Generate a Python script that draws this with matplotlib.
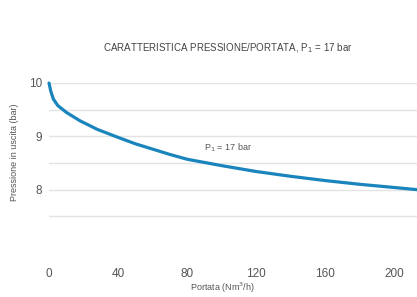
import matplotlib
matplotlib.use('Agg')
import matplotlib.pyplot as plt

plt.rcParams['font.family'] = ['Liberation Sans', 'DejaVu Sans']

# portata (Nm3/h) e pressione in uscita (bar)
portata = [0, 1, 2.5, 5, 10, 18, 28, 40, 50, 60, 70, 80, 100, 120, 140, 160, 180, 200, 213]
pressione = [10.0, 9.85, 9.70, 9.58, 9.45, 9.29, 9.13, 8.98, 8.86, 8.76, 8.66, 8.57,
             8.45, 8.34, 8.25, 8.17, 8.10, 8.04, 8.0]

x_ticks = [0, 40, 80, 120, 160, 200]
y_ticks = [8, 9, 10]
grid_levels = [7.5, 8, 8.5, 9, 9.5, 10]

titolo = 'CARATTERISTICA PRESSIONE/PORTATA, P$_1$ = 17 bar'
etichetta = 'P$_1$ = 17 bar'

fig = plt.figure(figsize=(4.17, 2.97), dpi=100)
ax = fig.add_axes([49 / 417, 54 / 297, 368 / 417, 160 / 297])

for g in grid_levels:
    ax.axhline(g, color='#e3e3e3', lw=1.0, zorder=1)

ax.plot(portata, pressione, color='#1a84bc', lw=2.3, solid_capstyle='round',
        clip_on=False, zorder=3)

ax.set_xlim(0, 213)
ax.set_ylim(7.0, 10.0)
ax.set_xticks(x_ticks)
ax.set_yticks(y_ticks)
ax.tick_params(length=0, labelsize=8.5, labelcolor='#555555')
ax.tick_params(axis='x', pad=18)
ax.tick_params(axis='y', pad=5)
for s in ax.spines.values():
    s.set_visible(False)

ax.text(90, 8.78, etichetta, fontsize=6.5, color='#555555', va='center', ha='left')

fig.text(228 / 417, 1 - 48 / 297, titolo, fontsize=7, color='#444444',
         ha='center', va='center')
fig.text(222 / 417, 1 - 288 / 297, 'Portata (Nm$^3$/h)', fontsize=6.5,
         color='#555555', ha='center', va='center')
fig.text(15 / 417, 1 - 152 / 297, 'Pressione in uscita (bar)', fontsize=6.5,
         color='#555555', ha='center', va='center', rotation=90)

fig.savefig('out.png', dpi=100)
